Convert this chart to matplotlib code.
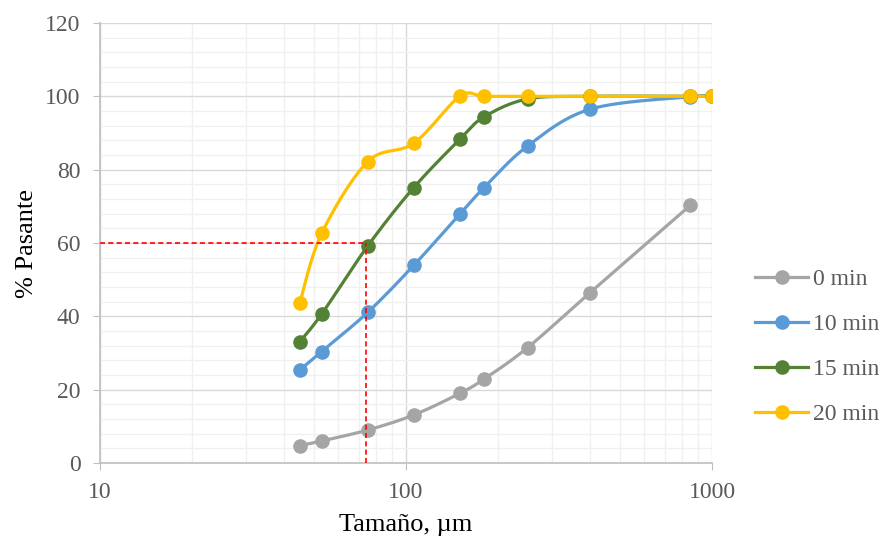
import numpy as np
import matplotlib.pyplot as plt
from matplotlib.ticker import FixedLocator, NullFormatter, FixedFormatter

# data
size_um = [45, 53, 75, 106, 150, 180, 250, 400, 850, 1000]
pas_0 = [4.7, 6.0, 9.0, 13.1, 19.0, 22.9, 31.5, 46.5, 70.3]
pas_10 = [25.4, 30.4, 41.1, 53.9, 67.9, 75.1, 86.5, 96.5, 99.9, 100]
pas_15 = [33.1, 40.6, 59.2, 75.1, 88.3, 94.4, 99.3, 100, 100, 100]
pas_20 = [43.7, 62.6, 82.2, 87.2, 100, 100, 100, 100, 100, 100]
series = [("0 min", pas_0, "#A5A5A5"),
          ("10 min", pas_10, "#5B9BD5"),
          ("15 min", pas_15, "#548235"),
          ("20 min", pas_20, "#FFC000")]
d60 = 74  # size at 60 % passing


def smooth(x, y, n=30):
    # Excel-like smoothed line (Catmull-Rom in log-x space)
    u = np.log10(np.asarray(x, float))
    v = np.asarray(y, float)
    P = np.column_stack([u, v])
    P = np.vstack([P[0], P, P[-1]])
    t = np.linspace(0, 1, n)[:, None]
    out = []
    for i in range(1, len(P) - 2):
        p0, p1, p2, p3 = P[i - 1], P[i], P[i + 1], P[i + 2]
        c1 = p1 + (p2 - p0) / 6
        c2 = p2 - (p3 - p1) / 6
        seg = ((1 - t) ** 3) * p1 + 3 * ((1 - t) ** 2) * t * c1 + 3 * (1 - t) * t ** 2 * c2 + t ** 3 * p2
        out.append(seg)
    seg = np.vstack(out)
    return 10 ** seg[:, 0], seg[:, 1]


plt.rcParams['font.family'] = ['Liberation Serif', 'DejaVu Serif']

fig = plt.figure(figsize=(8.82, 5.42), dpi=100)
ax = fig.add_axes([100 / 882, 79 / 542, 612 / 882, 440 / 542])

for label, vals, col in series:
    xs = size_um[:len(vals)]
    sx, sy = smooth(xs, vals)
    ax.plot(sx, sy, color=col, lw=2.3, solid_capstyle='round', zorder=3)
    ax.plot(xs, vals, 'o', color=col, ms=9.5, zorder=4)
    ax.plot([], [], '-o', color=col, lw=2.3, ms=9.5, label=label)

# d60 guide lines
ax.plot([10, d60], [60, 60], color='#FF0000', ls='--', lw=1.2, dashes=(3, 2), zorder=5)
ax.plot([d60, d60], [0, 60], color='#FF0000', ls='--', lw=1.2, dashes=(3, 2), zorder=5)

ax.set_xscale('log')
ax.set_xlim(10, 1000)
ax.set_ylim(0, 120)
ax.xaxis.set_major_locator(FixedLocator([10, 100, 1000]))
ax.xaxis.set_major_formatter(FixedFormatter(['10', '100', '1000']))
minors = [k * 10 ** e for e in (1, 2) for k in range(2, 10)]
ax.xaxis.set_minor_locator(FixedLocator(minors))
ax.xaxis.set_minor_formatter(NullFormatter())
ax.set_yticks(np.arange(0, 121, 20))
ax.set_yticks(np.arange(0, 121, 4), minor=True)

ax.grid(which='major', color='#D9D9D9', lw=1.0, zorder=0)
ax.grid(which='minor', color='#F0F0F0', lw=1.0, zorder=0)
ax.set_axisbelow(True)

for s in ('top', 'right'):
    ax.spines[s].set_visible(False)
for s in ('left', 'bottom'):
    ax.spines[s].set_color('#BFBFBF')
    ax.spines[s].set_linewidth(1.2)

ax.tick_params(which='major', length=5, color='#BFBFBF', labelsize=17,
               labelcolor='#595959', pad=9)
ax.tick_params(which='minor', length=0)

ax.set_xlabel('Tamaño, µm', fontsize=19)
ax.set_ylabel('% Pasante', fontsize=19)
ax.xaxis.set_label_coords(0.5, -0.116)
ax.yaxis.set_label_coords(-0.102, 0.5)

fig.legend(loc='center left', bbox_to_anchor=(755 / 882, 1 - 347 / 542),
           frameon=False, fontsize=17, handlelength=2.25, handletextpad=0.2,
           labelspacing=1.0, labelcolor='#595959', borderaxespad=0,
           borderpad=0)

fig.savefig('out.png', dpi=100)
